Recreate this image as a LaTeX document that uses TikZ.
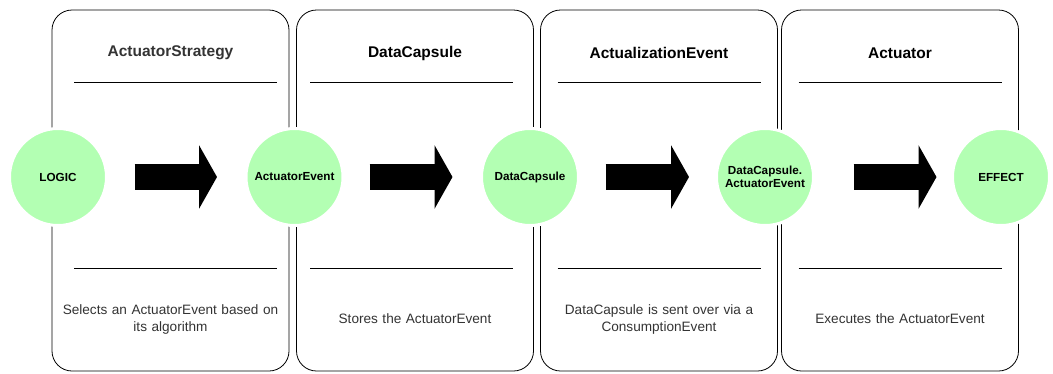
\documentclass[tikz,border=0pt]{standalone}
\usepackage{fontspec}
\setmainfont{Liberation Sans}
\usepackage{tikz}
\usetikzlibrary{arrows.meta,shapes,positioning,calc}
\usepackage{xcolor}
\definecolor{dfgreen}{RGB}{179,255,179}
\definecolor{dfgray}{RGB}{51,51,51}
\tikzstyle{lane} = [rectangle, rounded corners=20pt, minimum width=237pt, minimum height=361pt, draw=black, thick]
\tikzstyle{sep} = [draw=black, semithick]
\tikzstyle{title} = [font=\fontsize{15.5}{18}\selectfont\bfseries, text centered]
\tikzstyle{desc} = [font=\fontsize{13.6}{17}\selectfont, color=dfgray, text width=235pt, align=center]
\tikzstyle{stage} = [circle, minimum size=97pt, inner sep=0pt, fill=dfgreen, draw=white, line width=3pt, font=\fontsize{11.7}{12.5}\selectfont\bfseries, align=center]
\tikzstyle{flow} = [line width=26pt, -{Triangle[width=63pt,length=18pt]}, color=black]

\begin{document}
\begin{tikzpicture}[x=1pt,y=-1pt]
\useasboundingbox (0,0) rectangle (1053,373);
% Four lanes
\node[lane] (strat) at (170.5,190.5) {};
\node[lane] (capsule) at (415,190.5) {};
\node[lane] (actual) at (659,190.5) {};
\node[lane] (actuator) at (900,190.5) {};

\node[title, color=dfgray] (stratT) at (170.5,53) {ActuatorStrategy};
\node[title] (capsuleT) at (415,53) {DataCapsule};
\node[title] (actualT) at (659,53) {ActualizationEvent};
\node[title] (actuatorT) at (900,53) {Actuator};

\foreach \c in {175.5,411.5,659,900} {
  \draw[sep] (\c-101.5,82) -- (\c+101.5,82);
  \draw[sep] (\c-101.5,268) -- (\c+101.5,268);
}

\node[desc] (stratD) at (170.5,319) {Selects an ActuatorEvent based on\\its algorithm};
\node[desc] (capsuleD) at (415,319) {Stores the ActuatorEvent};
\node[desc] (actualD) at (659,319) {DataCapsule is sent over via a\\ConsumptionEvent};
\node[desc] (actuatorD) at (900,319) {Executes the ActuatorEvent};

% Stages
\node[stage] (logic) at (58,177) {LOGIC};
\node[stage] (event) at (294.5,177) {ActuatorEvent};
\node[stage] (data) at (530,177) {DataCapsule};
\node[stage] (dataevent) at (765,177) {DataCapsule.\\ActuatorEvent};
\node[stage] (effect) at (1001,177) {EFFECT};

\draw[flow, shorten <=26.5pt, shorten >=27.5pt] (logic) -- (event);
\draw[flow, shorten <=25pt, shorten >=27.5pt] (event) -- (data);
\draw[flow, shorten <=25.5pt, shorten >=26pt] (data) -- (dataevent);
\draw[flow, shorten <=38.5pt, shorten >=14.5pt] (dataevent) -- (effect);
\end{tikzpicture}
\end{document}
